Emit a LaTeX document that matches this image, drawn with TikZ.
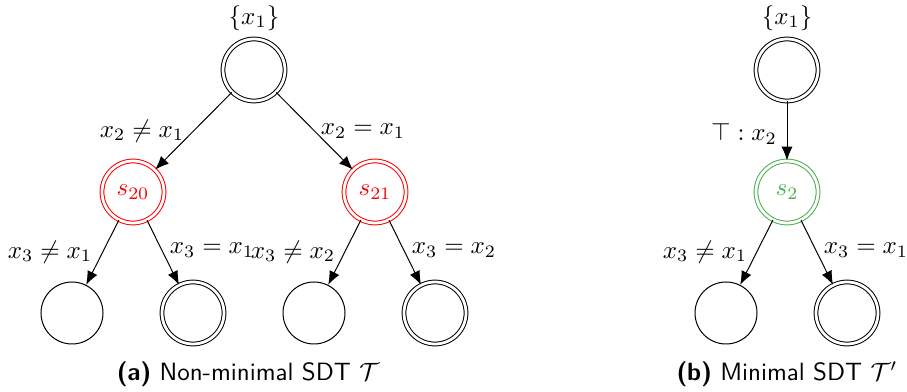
\documentclass[tikz,border=0pt]{standalone}
\usetikzlibrary{arrows.meta}
\definecolor{sgreen}{RGB}{76,175,80}
\begin{document}
\begin{tikzpicture}[x=0.4pt,y=-0.4pt,
  st/.style={circle,draw,minimum size=24.8pt,inner sep=0pt,line width=0.4pt},
  acc/.style={st,double,double distance=1.1pt},
  edge/.style={-{Latex[length=5.5pt,width=4.4pt]},line width=0.4pt},
  lbl/.style={inner sep=0pt}]
\useasboundingbox (0,0) rectangle (907,392);
% left tree
\node[acc] (r) at (254,70) {};
\node[lbl] (rl) at (254,18) {$\{x_1\}$};
\node[acc,red] (a) at (133,192) {\textcolor{red}{$s_{20}$}};
\node[acc,red] (b) at (375,192) {\textcolor{red}{$s_{21}$}};
\node[st] (l1) at (72,313) {};
\node[acc] (l2) at (193,313) {};
\node[st] (l3) at (314,313) {};
\node[acc] (l4) at (435,313) {};
\draw[edge] (r) -- (a);
\draw[edge] (r) -- (b);
\draw[edge] (a) -- (l1);
\draw[edge] (a) -- (l2);
\draw[edge] (b) -- (l3);
\draw[edge] (b) -- (l4);
\node[lbl] (e1) at (142,131) {$x_2\neq x_1$};
\node[lbl] (e2) at (363,131) {$x_2=x_1$};
\node[lbl] (e3) at (50,252) {$x_3\neq x_1$};
\node[lbl] (e4) at (212,250) {$x_3=x_1$};
\node[lbl] (e5) at (293,252) {$x_3\neq x_2$};
\node[lbl] (e6) at (454,250) {$x_3=x_2$};
\node[lbl] (ca) at (248,374) {\sffamily\textbf{(a)} Non-minimal SDT $\mathcal{T}$};
% right tree
\node[acc] (R) at (787,70) {};
\node[lbl] (Rl) at (787,18) {$\{x_1\}$};
\node[acc,sgreen] (S) at (787,192) {\textcolor{sgreen}{$s_2$}};
\node[st] (m1) at (726,313) {};
\node[acc] (m2) at (847,313) {};
\draw[edge] (R) -- (S);
\draw[edge] (S) -- (m1);
\draw[edge] (S) -- (m2);
\node[lbl] (f1) at (744,134) {$\top : x_2$};
\node[lbl] (f2) at (705,252) {$x_3\neq x_1$};
\node[lbl] (f3) at (866,250) {$x_3=x_1$};
\node[lbl] (cb) at (787,374) {\sffamily\textbf{(b)} Minimal SDT $\mathcal{T}'$};
\end{tikzpicture}
\end{document}
